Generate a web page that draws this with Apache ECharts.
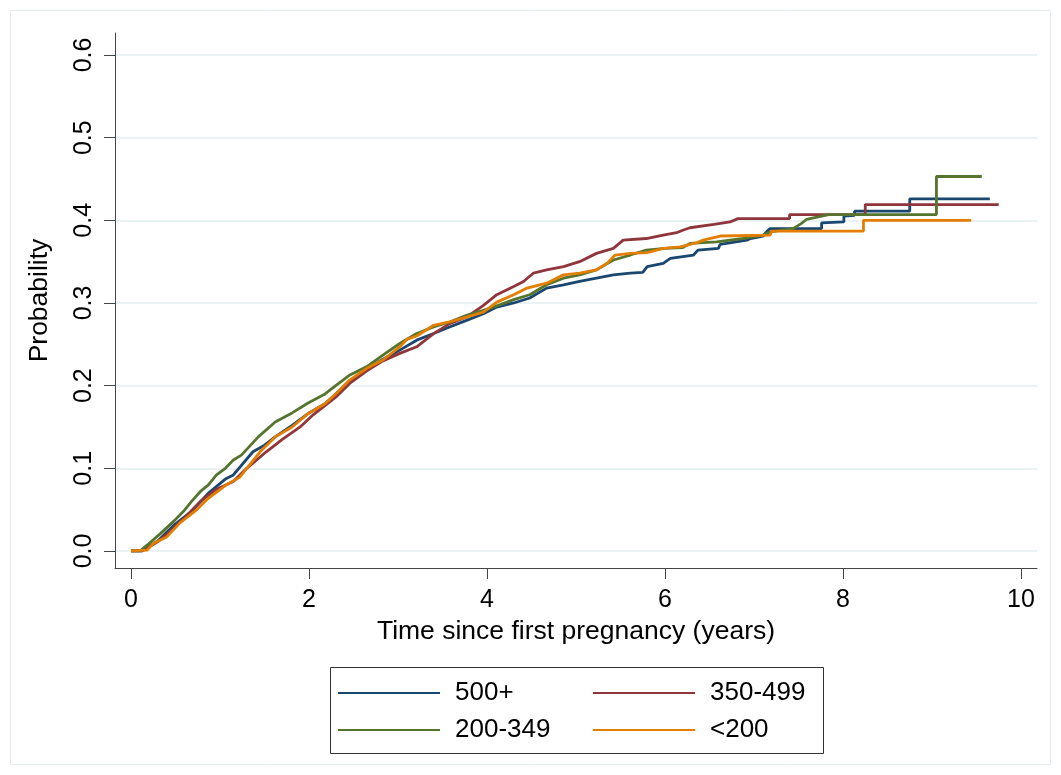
<!DOCTYPE html>
<html>
<head>
<meta charset="utf-8">
<script src="https://cdn.jsdelivr.net/npm/echarts@6/dist/echarts.min.js"></script>
<style>
  html, body { margin: 0; padding: 0; background: #fff; }
  #chart { width: 1061px; height: 775px; }
</style>
</head>
<body>
<div id="chart"></div>
<script>
// tick positions
var xTicks = [0, 2, 4, 6, 8, 10];
var yTicks = [0, 0.1, 0.2, 0.3, 0.4, 0.5, 0.6];

var seriesNames = ['500+', '350-499', '200-349', '<200'];

// [years, probability]
var cd4_500 = [[0,0],[0.12,0],[0.3,0.012],[0.49,0.032],[0.68,0.048],[0.87,0.070],[1.06,0.087],[1.15,0.092],[1.37,0.120],[1.5,0.128],[1.62,0.138],[1.81,0.152],[2.0,0.167],[2.18,0.178],[2.3,0.190],[2.46,0.206],[2.65,0.220],[2.83,0.232],[3.02,0.243],[3.21,0.255],[3.4,0.263],[3.58,0.271],[3.77,0.279],[3.96,0.287],[4.11,0.295],[4.3,0.300],[4.48,0.306],[4.67,0.318],[4.86,0.322],[5.04,0.326],[5.23,0.330],[5.42,0.334],[5.61,0.336],[5.75,0.337],[5.8,0.344],[5.98,0.348],[6.06,0.354],[6.32,0.358],[6.37,0.364],[6.6,0.366],[6.62,0.371],[6.92,0.376],[6.96,0.378],[7.1,0.381],[7.14,0.386],[7.18,0.390],[7.76,0.390],[7.76,0.397],[8.01,0.398],[8.01,0.405],[8.13,0.406],[8.13,0.411],[8.75,0.411],[8.75,0.426],[9.65,0.426]];
var cd4_350 = [[0,0],[0.12,0],[0.3,0.011],[0.4,0.020],[0.6,0.040],[0.78,0.060],[0.95,0.074],[1.15,0.084],[1.3,0.100],[1.52,0.120],[1.7,0.135],[1.9,0.150],[2.05,0.165],[2.3,0.186],[2.46,0.203],[2.65,0.218],[2.83,0.230],[3.02,0.239],[3.21,0.247],[3.4,0.263],[3.58,0.275],[3.77,0.283],[3.96,0.297],[4.11,0.310],[4.3,0.320],[4.41,0.326],[4.52,0.336],[4.67,0.340],[4.86,0.344],[5.04,0.350],[5.23,0.360],[5.42,0.366],[5.53,0.376],[5.79,0.378],[5.98,0.382],[6.13,0.385],[6.2,0.388],[6.28,0.391],[6.55,0.395],[6.73,0.398],[6.82,0.402],[7.4,0.402],[7.4,0.407],[8.25,0.407],[8.25,0.419],[9.75,0.419]];
var cd4_200 = [[0,0],[0.1,0],[0.18,0.007],[0.33,0.021],[0.49,0.037],[0.59,0.048],[0.68,0.060],[0.78,0.072],[0.87,0.080],[0.96,0.092],[1.06,0.100],[1.15,0.110],[1.24,0.116],[1.43,0.138],[1.62,0.156],[1.81,0.167],[1.99,0.179],[2.18,0.190],[2.3,0.200],[2.46,0.213],[2.65,0.223],[2.83,0.237],[3.02,0.251],[3.21,0.263],[3.4,0.271],[3.58,0.277],[3.77,0.285],[3.96,0.291],[4.15,0.298],[4.3,0.304],[4.48,0.310],[4.67,0.322],[4.86,0.330],[5.04,0.334],[5.23,0.340],[5.42,0.352],[5.61,0.358],[5.79,0.364],[6.0,0.366],[6.2,0.367],[6.28,0.372],[6.58,0.374],[6.88,0.378],[7.1,0.382],[7.18,0.386],[7.44,0.390],[7.53,0.396],[7.59,0.401],[7.84,0.407],[9.05,0.407],[9.05,0.453],[9.56,0.453]];
var cd4_lt200 = [[0,0],[0.18,0.001],[0.25,0.009],[0.4,0.017],[0.55,0.034],[0.74,0.050],[0.85,0.062],[1.07,0.080],[1.22,0.089],[1.45,0.120],[1.62,0.138],[1.81,0.150],[2.0,0.167],[2.18,0.178],[2.3,0.190],[2.46,0.207],[2.65,0.221],[2.83,0.231],[3.02,0.247],[3.1,0.256],[3.21,0.260],[3.4,0.273],[3.58,0.277],[3.77,0.283],[3.96,0.289],[4.11,0.301],[4.3,0.310],[4.45,0.318],[4.67,0.324],[4.86,0.334],[5.04,0.336],[5.23,0.340],[5.35,0.348],[5.44,0.358],[5.61,0.360],[5.8,0.361],[5.98,0.366],[6.17,0.368],[6.36,0.373],[6.43,0.376],[6.62,0.381],[7.18,0.382],[7.2,0.387],[8.23,0.387],[8.23,0.400],[9.44,0.400]];

var colors = ['#1a476f', '#90353b', '#55752f', '#e37e00'];
var font = 'Liberation Sans, Arial, sans-serif';

var chart = echarts.init(document.getElementById('chart'), null, { renderer: 'canvas' });

function line(name, data, color) {
    return {
        name: name,
        type: 'line',
        data: data,
        symbol: 'none',
        showSymbol: false,
        lineStyle: { color: color, width: 2.8 },
        itemStyle: { color: color },
        emphasis: { disabled: true }
    };
}

// one legend per entry, laid out as a 2x2 block like the original
function legendItem(name, left, top) {
    return {
        data: [name],
        left: left,
        top: top,
        icon: 'rect',
        itemWidth: 102,
        itemHeight: 2,
        padding: 0,
        textStyle: { fontFamily: font, fontSize: 26, color: '#000', padding: [0, 0, 0, 10] }
    };
}

chart.setOption({
    animation: false,
    backgroundColor: '#fff',
    color: colors,
    grid: { left: 115, top: 33, width: 922, height: 535, containLabel: false },
    legend: [
        legendItem(seriesNames[0], 338, 680),
        legendItem(seriesNames[1], 593, 680),
        legendItem(seriesNames[2], 338, 717),
        legendItem(seriesNames[3], 593, 717)
    ],
    graphic: [
        { type: 'rect', shape: { x: 10.5, y: 10.5, width: 1040, height: 754 }, style: { fill: 'none', stroke: '#e4ecef', lineWidth: 1 }, silent: true },
        { type: 'rect', shape: { x: 330.5, y: 667.5, width: 493, height: 86 }, style: { fill: 'none', stroke: '#333', lineWidth: 1 }, silent: true }
    ],
    xAxis: {
        type: 'value',
        min: -0.18,
        max: 10.18,
        name: 'Time since first pregnancy (years)',
        nameLocation: 'middle',
        nameGap: 47,
        nameTextStyle: { fontFamily: font, fontSize: 26.5, color: '#000' },
        axisLine: { show: true, onZero: false, lineStyle: { color: '#444', width: 1 } },
        axisTick: { show: true, length: 11, customValues: xTicks, lineStyle: { color: '#444' } },
        axisLabel: { customValues: xTicks, margin: 20, fontFamily: font, fontSize: 25, color: '#000' },
        splitLine: { show: false }
    },
    yAxis: {
        type: 'value',
        min: -0.0206,
        max: 0.6266,
        name: 'Probability',
        nameLocation: 'middle',
        nameGap: 62,
        nameTextStyle: { fontFamily: font, fontSize: 26.5, color: '#000' },
        axisLine: { show: true, onZero: false, lineStyle: { color: '#444', width: 1 } },
        axisTick: { show: true, length: 11, customValues: yTicks, lineStyle: { color: '#444' } },
        axisLabel: {
            customValues: yTicks,
            rotate: 90,
            margin: 18,
            fontFamily: font,
            fontSize: 25,
            color: '#000',
            formatter: function (v) { return v.toFixed(1); }
        },
        splitLine: { show: true, lineStyle: { color: '#eaf2f3', width: 2 } }
    },
    series: [
        line(seriesNames[0], cd4_500, colors[0]),
        line(seriesNames[1], cd4_350, colors[1]),
        line(seriesNames[2], cd4_200, colors[2]),
        line(seriesNames[3], cd4_lt200, colors[3])
    ]
});
</script>
</body>
</html>
